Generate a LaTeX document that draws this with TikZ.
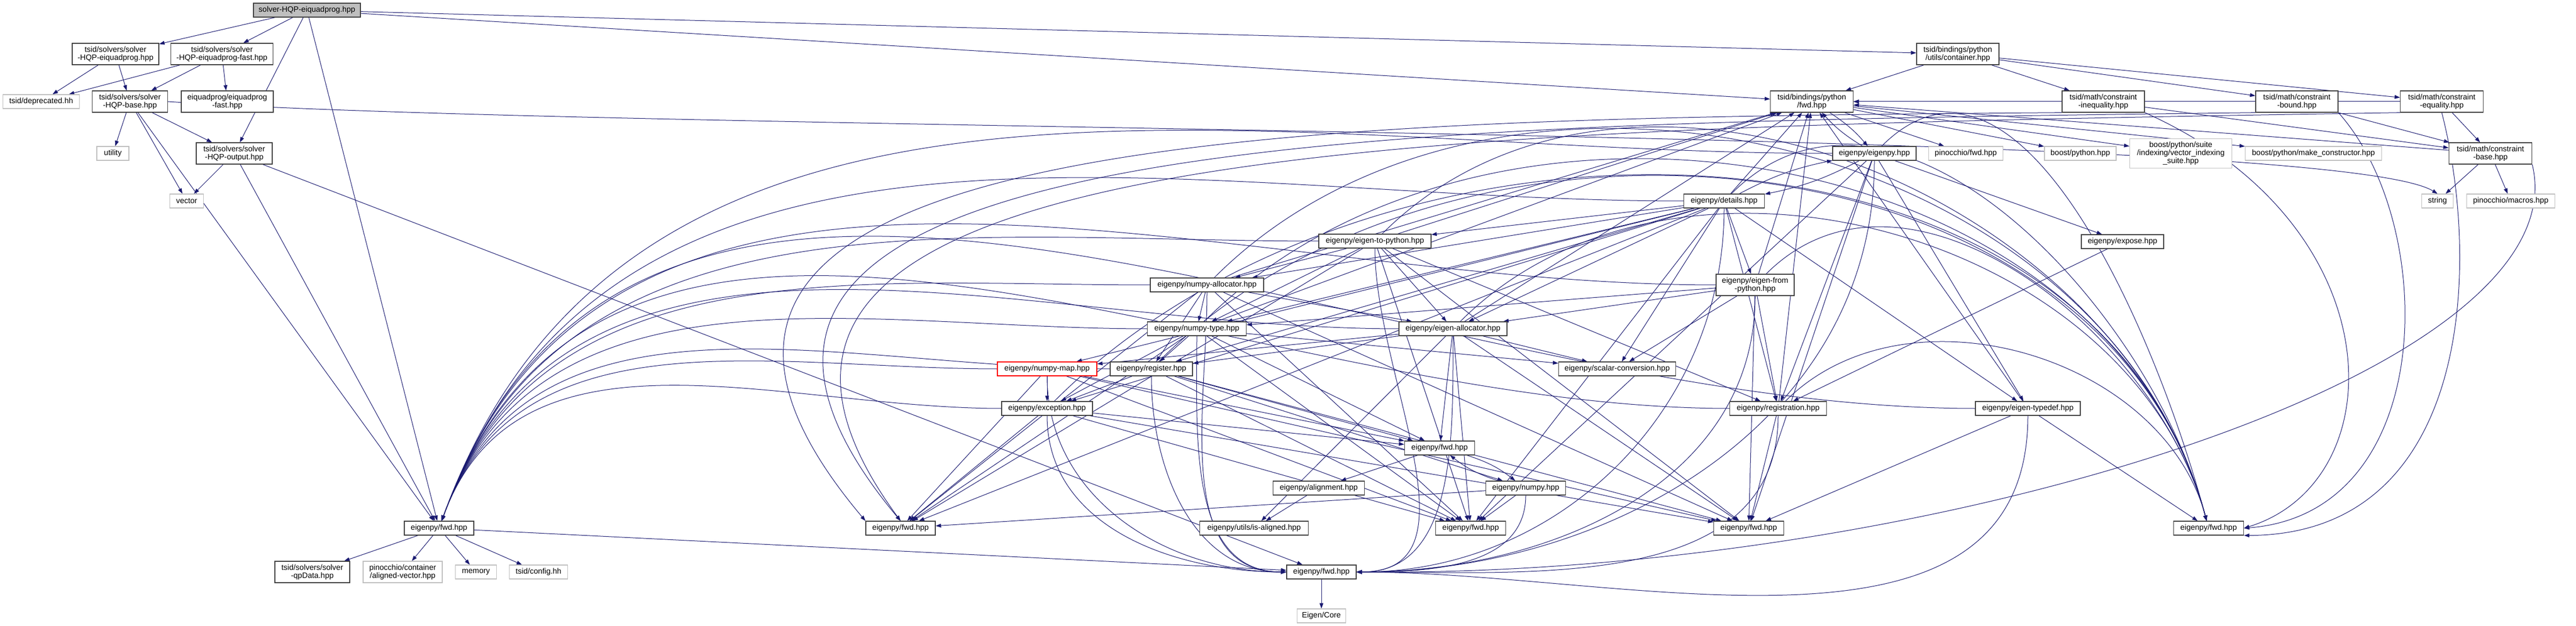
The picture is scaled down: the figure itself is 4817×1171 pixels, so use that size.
\documentclass[tikz,border=0pt]{standalone}
\usepackage{fontspec}
\setmainfont{Liberation Sans}
\usetikzlibrary{arrows.meta,backgrounds}
\definecolor{midnight}{HTML}{191970}
\definecolor{extgray}{HTML}{BFBFBF}
\tikzset{
  file/.style={draw=black!75, fill=white, line width=0.26pt, minimum width=#1*0.2pt, minimum height=5.2pt, inner sep=0.4pt, align=center, font=\fontsize{2.9}{3}\selectfont},
  ext/.style={file=#1, draw=extgray},
  rootfile/.style={file=#1, fill=extgray},
  hilite/.style={file=#1, draw=red},
  twoline/.style={minimum height=8pt},
  threeline/.style={minimum height=11pt},
  inc/.style={color=midnight, line width=0.2pt, -{Triangle[length=2pt,width=1.4pt]}},
  sweep/.style={out=180, in=70},
  fromleft/.style={out=-90, in=180},
  fromright/.style={out=-90, in=0},
  fromabove/.style={in=105}
}
\begin{document}
\begin{tikzpicture}[x=0.2pt,y=-0.2pt]
\useasboundingbox (0,0) rectangle (4817,1171);
% solver headers
\node[rootfile=200] (root) at (574,19) {solver-HQP-eiquadprog.hpp};
\node[file=162, twoline] (hqpEiq) at (216,101) {tsid/solvers/solver\\-HQP-eiquadprog.hpp};
\node[file=191, twoline] (hqpFast) at (415,101) {tsid/solvers/solver\\-HQP-eiquadprog-fast.hpp};
\node[ext=143] (deprecated) at (77,190) {tsid/deprecated.hh};
\node[file=141, twoline] (hqpBase) at (243,190) {tsid/solvers/solver\\-HQP-base.hpp};
\node[file=172, twoline] (eiqFast) at (425,190) {eiquadprog/eiquadprog\\-fast.hpp};
\node[ext=60] (utility) at (211,287) {utility};
\node[file=142, twoline] (hqpOutput) at (438,287) {tsid/solvers/solver\\-HQP-output.hpp};
\node[ext=63] (vector) at (349,376) {vector};
% bindings and constraints
\node[file=154, twoline] (container) at (3661,101) {tsid/bindings/python\\/utils/container.hpp};
\node[file=155, twoline] (pyFwd) at (3388,190) {tsid/bindings/python\\/fwd.hpp};
\node[file=154, twoline] (cInequality) at (3933,190) {tsid/math/constraint\\-inequality.hpp};
\node[file=154, twoline] (cBound) at (4295,190) {tsid/math/constraint\\-bound.hpp};
\node[file=155, twoline] (cEquality) at (4566,190) {tsid/math/constraint\\-equality.hpp};
\node[file=155, twoline] (cBase) at (4657,287) {tsid/math/constraint\\-base.hpp};
\node[ext=59] (string) at (4558,376) {string};
\node[ext=165] (pinMacros) at (4695,376) {pinocchio/macros.hpp};
\node[file=156] (eigenpy) at (3505,287) {eigenpy/eigenpy.hpp};
\node[ext=139] (pinFwd) at (3676,287) {pinocchio/fwd.hpp};
\node[ext=134] (boostPy) at (3890,287) {boost/python.hpp};
\node[ext=191, threeline] (vecIdx) at (4078,287) {boost/python/suite\\/indexing/vector\_indexing\\\_suite.hpp};
\node[ext=255] (makeCtor) at (4326,287) {boost/python/make\_constructor.hpp};
% eigenpy headers
\node[file=151] (details) at (3224,376) {eigenpy/details.hpp};
\node[file=154] (expose) at (3969,452) {eigenpy/expose.hpp};
\node[file=210] (e2py) at (2571,451) {eigenpy/eigen-to-python.hpp};
\node[file=212] (npAlloc) at (2257,533) {eigenpy/numpy-allocator.hpp};
\node[file=146, twoline] (efpy) at (3282,533) {eigenpy/eigen-from\\-python.hpp};
\node[file=185] (npType) at (2238,615) {eigenpy/numpy-type.hpp};
\node[file=202] (eAlloc) at (2717,615) {eigenpy/eigen-allocator.hpp};
\node[file=219] (scalarConv) at (3024,690) {eigenpy/scalar-conversion.hpp};
\node[hilite=186] (npMap) at (1958,690) {eigenpy/numpy-map.hpp};
\node[file=154] (register) at (2153,690) {eigenpy/register.hpp};
\node[file=170] (exception) at (1958,764) {eigenpy/exception.hpp};
\node[file=181] (registration) at (3325,764) {eigenpy/registration.hpp};
\node[file=196] (typedef) at (3792,764) {eigenpy/eigen-typedef.hpp};
\node[file=131] (fwdA) at (2692,838) {eigenpy/fwd.hpp};
\node[file=171] (alignment) at (2466,913) {eigenpy/alignment.hpp};
\node[file=149] (numpy) at (2853,913) {eigenpy/numpy.hpp};
\node[file=130] (fwdB) at (1684,988) {eigenpy/fwd.hpp};
\node[file=203] (isAligned) at (2345,988) {eigenpy/utils/is-aligned.hpp};
\node[file=131] (fwdC) at (2750,988) {eigenpy/fwd.hpp};
\node[file=131] (fwdF) at (3270,988) {eigenpy/fwd.hpp};
\node[file=131] (fwdG) at (4130,988) {eigenpy/fwd.hpp};
\node[file=130] (fwdE) at (821,988) {eigenpy/fwd.hpp};
\node[file=130] (fwdD) at (2471,1070) {eigenpy/fwd.hpp};
\node[ext=91] (eigenCore) at (2471,1152) {Eigen/Core};
\node[file=140, twoline] (qpData) at (584,1070) {tsid/solvers/solver\\-qpData.hpp};
\node[ext=148, twoline] (alignedVec) at (753,1070) {pinocchio/container\\/aligned-vector.hpp};
\node[ext=77] (memory) at (890,1070) {memory};
\node[ext=109] (config) at (1007,1070) {tsid/config.hh};

\begin{pgfonlayer}{background}
\begin{scope}[inc]
% tsid side
\path (root) edge (hqpEiq) edge (hqpFast) edge (hqpOutput) edge (fwdE) edge (container) edge (pyFwd);
\path (hqpEiq) edge (deprecated) edge (hqpBase);
\path (hqpFast) edge (deprecated) edge (hqpBase) edge (eiqFast);
\path (hqpBase) edge (utility) edge (vector) edge (hqpOutput) edge (fwdE);
\draw (hqpBase.east) .. controls (1200,250) and (4350,235) .. (string.north);
\path (hqpOutput) edge (vector) edge (fwdE) edge (fwdD);
\path (container) edge (pyFwd) edge (cInequality) edge (cBound) edge (cEquality);
\path (pyFwd) edge[bend left=8] (eigenpy) edge (pinFwd) edge (boostPy) edge (vecIdx) edge (makeCtor);
\path (cInequality) edge (cBase) edge (pyFwd);
\path (cBound) edge (cBase) edge (pyFwd);
\path (cEquality) edge (cBase) edge (pyFwd);
\path (cBase) edge (string) edge (pinMacros) edge (pyFwd);
\draw (cInequality.south west) .. controls (2400,222) and (1000,240) .. (fwdB.north west);
\draw (cBound.south west) .. controls (2500,232) and (1080,250) .. (fwdB.north);
\draw (cEquality.south west) .. controls (2600,242) and (1160,260) .. (fwdB.north);
\draw (cInequality.south east) .. controls (4480,420) and (4480,900) .. (fwdG.east);
\draw (cBound.south east) .. controls (4560,420) and (4560,960) .. (fwdG.east);
\draw (cEquality.south) .. controls (4640,500) and (4620,1000) .. (fwdG.south east);
\draw (cBase.south east) .. controls (4830,700) and (3600,1080) .. (fwdD.east);
% eigenpy side
\path (eigenpy) edge[bend left=8] (pyFwd) edge[bend left=8] (details) edge (expose) edge (typedef) edge (registration) edge[sweep] (fwdE) edge (fwdC) edge (fwdF) edge[fromabove] (fwdG) edge[fromright] (fwdD);
\path (details) edge[bend left=8] (eigenpy) edge (pyFwd) edge (e2py) edge (npAlloc) edge (efpy) edge (npType) edge (eAlloc) edge (scalarConv) edge (register) edge (registration) edge (npMap) edge (exception) edge (typedef) edge[sweep] (fwdE) edge (fwdB) edge (fwdC) edge[fromabove] (fwdG) edge[fromright] (fwdD);
\path (e2py) edge (pyFwd) edge (npAlloc) edge (npType) edge (eAlloc) edge (registration) edge[sweep] (fwdE) edge (fwdB) edge (fwdC) edge (fwdF) edge[fromabove] (fwdG) edge[fromright] (fwdD);
\path (npAlloc) edge (pyFwd) edge (npType) edge (eAlloc) edge (register) edge[sweep] (fwdE) edge (fwdB) edge (fwdC) edge (fwdF) edge[fromabove] (fwdG) edge[fromleft] (fwdD);
\path (efpy) edge (pyFwd) edge (npType) edge (eAlloc) edge (scalarConv) edge (registration) edge[sweep] (fwdE) edge (fwdF) edge[fromabove] (fwdG) edge[fromright] (fwdD);
\path (npType) edge (pyFwd) edge (scalarConv) edge (register) edge (exception) edge[sweep] (fwdE) edge (fwdB) edge (fwdA) edge (fwdC) edge[fromabove] (fwdG) edge[fromleft] (fwdD);
\path (eAlloc) edge (pyFwd) edge (npMap) edge (register) edge (scalarConv) edge (isAligned) edge[sweep] (fwdE) edge (fwdA) edge (fwdC) edge (fwdF) edge[fromabove] (fwdG) edge[fromright] (fwdD);
\path (npMap) edge (exception) edge[sweep] (fwdE) edge (fwdA) edge (fwdB) edge (fwdC) edge (fwdF) edge[fromleft] (fwdD);
\path (register) edge (exception) edge (numpy) edge[sweep] (fwdE) edge (fwdA) edge (fwdC) edge (fwdF) edge[fromabove] (fwdG) edge[fromleft] (fwdD);
\path (exception) edge[sweep] (fwdE) edge (fwdA) edge (fwdB) edge (fwdC) edge (fwdF) edge[fromabove] (fwdG) edge[fromleft] (fwdD);
\path (registration) edge (pyFwd) edge[sweep] (fwdE) edge (fwdF) edge[fromabove] (fwdG) edge[fromright] (fwdD);
\path (typedef) edge (pyFwd) edge[sweep] (fwdE) edge (fwdF) edge (fwdG) edge[fromright] (fwdD);
\path (expose) edge (registration);
\path (fwdA) edge (alignment) edge[bend left=10] (numpy);
\path (numpy) edge[bend left=10] (fwdA) edge (fwdB) edge (fwdC) edge[fromright] (fwdD);
\path (alignment) edge (isAligned);
\path (fwdE) edge (qpData) edge (alignedVec) edge (memory) edge (config) edge (fwdD);
\path (fwdD) edge (eigenCore);
\end{scope}
\end{pgfonlayer}
\end{tikzpicture}
\end{document}
